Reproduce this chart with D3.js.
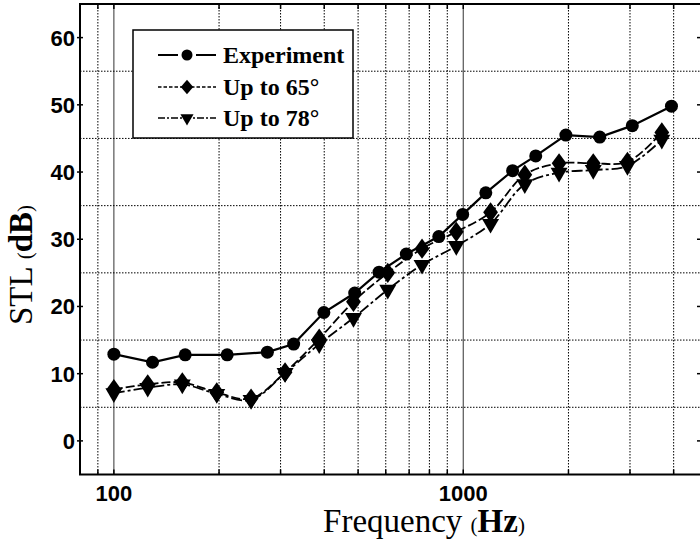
<!DOCTYPE html>
<html><head><meta charset="utf-8">
<script src="https://cdn.jsdelivr.net/npm/d3@7"></script>
<style>body{margin:0;background:#fff}svg{display:block}</style>
</head><body>
<svg id="c" width="700" height="546"></svg>
<script>
const expFreq = [100, 129, 160, 211, 275, 327, 399, 489, 574, 687, 851, 996, 1160, 1384, 1612, 1966, 2458, 3046, 3943];
const expSTL  = [12.9, 11.7, 12.8, 12.8, 13.2, 14.4, 19.1, 22.0, 25.1, 27.8, 30.4, 33.7, 36.9, 40.2, 42.4, 45.5, 45.2, 46.9, 49.8];
const simFreq = [100, 125, 157, 197, 247, 309, 387, 485, 608, 762, 955, 1197, 1500, 1880, 2355, 2950, 3700];
const stl65   = [7.7, 8.4, 8.7, 7.2, 6.3, 10.2, 15.2, 20.7, 25.0, 28.6, 31.1, 34.0, 39.6, 41.3, 41.3, 41.5, 45.9];
const stl78   = [7.1, 7.9, 8.4, 7.0, 6.1, 10.1, 14.4, 18.3, 22.5, 26.2, 29.0, 32.3, 38.2, 39.9, 40.3, 40.9, 44.8];
const seriesNames = ["Experiment", "Up to 65°", "Up to 78°"];
const yTicks = [0, 10, 20, 30, 40, 50, 60];
const yGrid = [5, 15, 25, 35, 45, 55];
const xMajor = [100, 1000];
const xMinor = [90, 200, 300, 400, 500, 600, 700, 800, 900, 2000, 3000, 4000];

const svg = d3.select("#c");
const L = 80, R = 701, T = 4, B = 474.5;
const x = d3.scaleLog().domain([80, 4790]).range([L, R]);
const y = d3.scaleLinear().domain([-5, 65]).range([B, T]);

const g = svg.append("g");
// grid
g.selectAll(".gx").data(xMinor).join("line")
  .attr("x1", d => x(d)).attr("x2", d => x(d)).attr("y1", T).attr("y2", B)
  .attr("stroke", "#000").attr("stroke-width", 1).attr("stroke-dasharray", "1.5,1.5");
g.selectAll(".gxm").data(xMajor).join("line")
  .attr("x1", d => x(d)).attr("x2", d => x(d)).attr("y1", T).attr("y2", B)
  .attr("stroke", "#555").attr("stroke-width", 1.2);
g.selectAll(".gy").data(yGrid).join("line")
  .attr("x1", L).attr("x2", R).attr("y1", d => y(d)).attr("y2", d => y(d))
  .attr("stroke", "#000").attr("stroke-width", 1).attr("stroke-dasharray", "1.5,1.5");

// ticks
const allX = xMajor.concat(xMinor);
g.selectAll(".tb").data(allX).join("line")
  .attr("x1", d => x(d)).attr("x2", d => x(d)).attr("y1", B).attr("y2", B - 5)
  .attr("stroke", "#000").attr("stroke-width", 1.5);
g.selectAll(".tt").data(allX).join("line")
  .attr("x1", d => x(d)).attr("x2", d => x(d)).attr("y1", T).attr("y2", T + 5)
  .attr("stroke", "#000").attr("stroke-width", 1.5);
g.selectAll(".tl").data(yTicks).join("line")
  .attr("x1", L - 3).attr("x2", L + 3).attr("y1", d => y(d)).attr("y2", d => y(d))
  .attr("stroke", "#000").attr("stroke-width", 1.5);
g.selectAll(".tr").data(yTicks).join("line")
  .attr("x1", R - 4).attr("x2", R).attr("y1", d => y(d)).attr("y2", d => y(d))
  .attr("stroke", "#000").attr("stroke-width", 1.5);

// frame
g.append("rect").attr("x", L).attr("y", T).attr("width", R - L).attr("height", B - T)
  .attr("fill", "none").attr("stroke", "#000").attr("stroke-width", 2);

// tick labels
g.selectAll(".yl").data(yTicks).join("text")
  .attr("x", L - 5).attr("y", d => y(d)).attr("dy", "0.36em")
  .attr("text-anchor", "end").attr("font-family", "Liberation Sans, Arial, sans-serif")
  .attr("font-weight", "bold").attr("font-size", 22).text(d => d);
g.selectAll(".xl").data(xMajor).join("text")
  .attr("x", d => x(d)).attr("y", 501)
  .attr("text-anchor", "middle").attr("font-family", "Liberation Sans, Arial, sans-serif")
  .attr("font-weight", "bold").attr("font-size", 22).text(d => d);

// axis titles
const xt = svg.append("text").attr("x", 424).attr("y", 532).attr("text-anchor", "middle")
  .attr("font-family", "Liberation Serif, Times New Roman, serif").attr("font-size", 33);
xt.append("tspan").text("Frequency ");
xt.append("tspan").attr("font-size", 21).text("(");
xt.append("tspan").attr("font-weight", "bold").text("Hz");
xt.append("tspan").attr("font-size", 21).text(")");

const yt = svg.append("text").attr("transform", "translate(32,265) rotate(-90)").attr("text-anchor", "middle")
  .attr("font-family", "Liberation Serif, Times New Roman, serif").attr("font-size", 33);
yt.append("tspan").text("STL ");
yt.append("tspan").attr("font-size", 21).text("(");
yt.append("tspan").attr("font-weight", "bold").text("dB");
yt.append("tspan").attr("font-size", 21).text(")");

// series
const lineLin = d3.line().x(d => x(d[0])).y(d => y(d[1]));
const lineSm = d3.line().x(d => x(d[0])).y(d => y(d[1])).curve(d3.curveCatmullRom.alpha(0.5));
const dExp = d3.zip(expFreq, expSTL);
const d65 = d3.zip(simFreq, stl65);
const d78 = d3.zip(simFreq, stl78);
const dash65 = "9,3", dash78 = "11,3,3,3";

g.append("path").datum(d78).attr("d", lineSm).attr("fill", "none").attr("stroke", "#000")
  .attr("stroke-width", 1.8).attr("stroke-dasharray", dash78);
g.append("path").datum(d65).attr("d", lineSm).attr("fill", "none").attr("stroke", "#000")
  .attr("stroke-width", 1.8).attr("stroke-dasharray", dash65);
g.append("path").datum(dExp).attr("d", lineLin).attr("fill", "none").attr("stroke", "#000")
  .attr("stroke-width", 2.2);

const tri = d3.symbol().type(d3.symbolTriangle).size(125);
const dia = d3.symbol().type(d3.symbolDiamond).size(90);
g.selectAll(".m78").data(d78).join("path")
  .attr("d", tri).attr("transform", d => `translate(${x(d[0])},${y(d[1])}) rotate(180)`).attr("fill", "#000");
g.selectAll(".m65").data(d65).join("path")
  .attr("d", dia).attr("transform", d => `translate(${x(d[0])},${y(d[1])}) scale(1.45,1.15)`).attr("fill", "#000");
g.selectAll(".me").data(dExp).join("circle")
  .attr("cx", d => x(d[0])).attr("cy", d => y(d[1])).attr("r", 6.5).attr("fill", "#000");

// legend
const lg = svg.append("g");
lg.append("rect").attr("x", 133).attr("y", 30).attr("width", 220).attr("height", 108)
  .attr("fill", "#fff").attr("stroke", "#000").attr("stroke-width", 1.5);
const rows = [55, 87, 118];
const dashes = [null, "3.5,2", "7,2,2,2"];
seriesNames.forEach((name, i) => {
  const ry = rows[i];
  const ln = lg.append("line").attr("x1", 158).attr("x2", 216).attr("y1", ry).attr("y2", ry)
    .attr("stroke", "#000").attr("stroke-width", i === 0 ? 2.2 : 1.3);
  if (dashes[i]) ln.attr("stroke-dasharray", dashes[i]);
  if (i === 0) {
    lg.append("line").attr("x1", 178).attr("x2", 196).attr("y1", ry).attr("y2", ry).attr("stroke", "#fff").attr("stroke-width", 4);
    lg.append("circle").attr("cx", 187).attr("cy", ry).attr("r", 5.5).attr("fill", "#000");
  } else if (i === 1) {
    lg.append("path").attr("d", d3.symbol().type(d3.symbolDiamond).size(60)).attr("transform", `translate(187,${ry}) scale(1.5,1)`).attr("fill", "#000");
  } else {
    lg.append("path").attr("d", d3.symbol().type(d3.symbolTriangle).size(75)).attr("transform", `translate(187,${ry}) rotate(180)`).attr("fill", "#000");
  }
  lg.append("text").attr("x", 223).attr("y", ry + 8).attr("font-family", "Liberation Serif, Times New Roman, serif")
    .attr("font-weight", "bold").attr("font-size", 24).text(name);
});
</script>
</body></html>
